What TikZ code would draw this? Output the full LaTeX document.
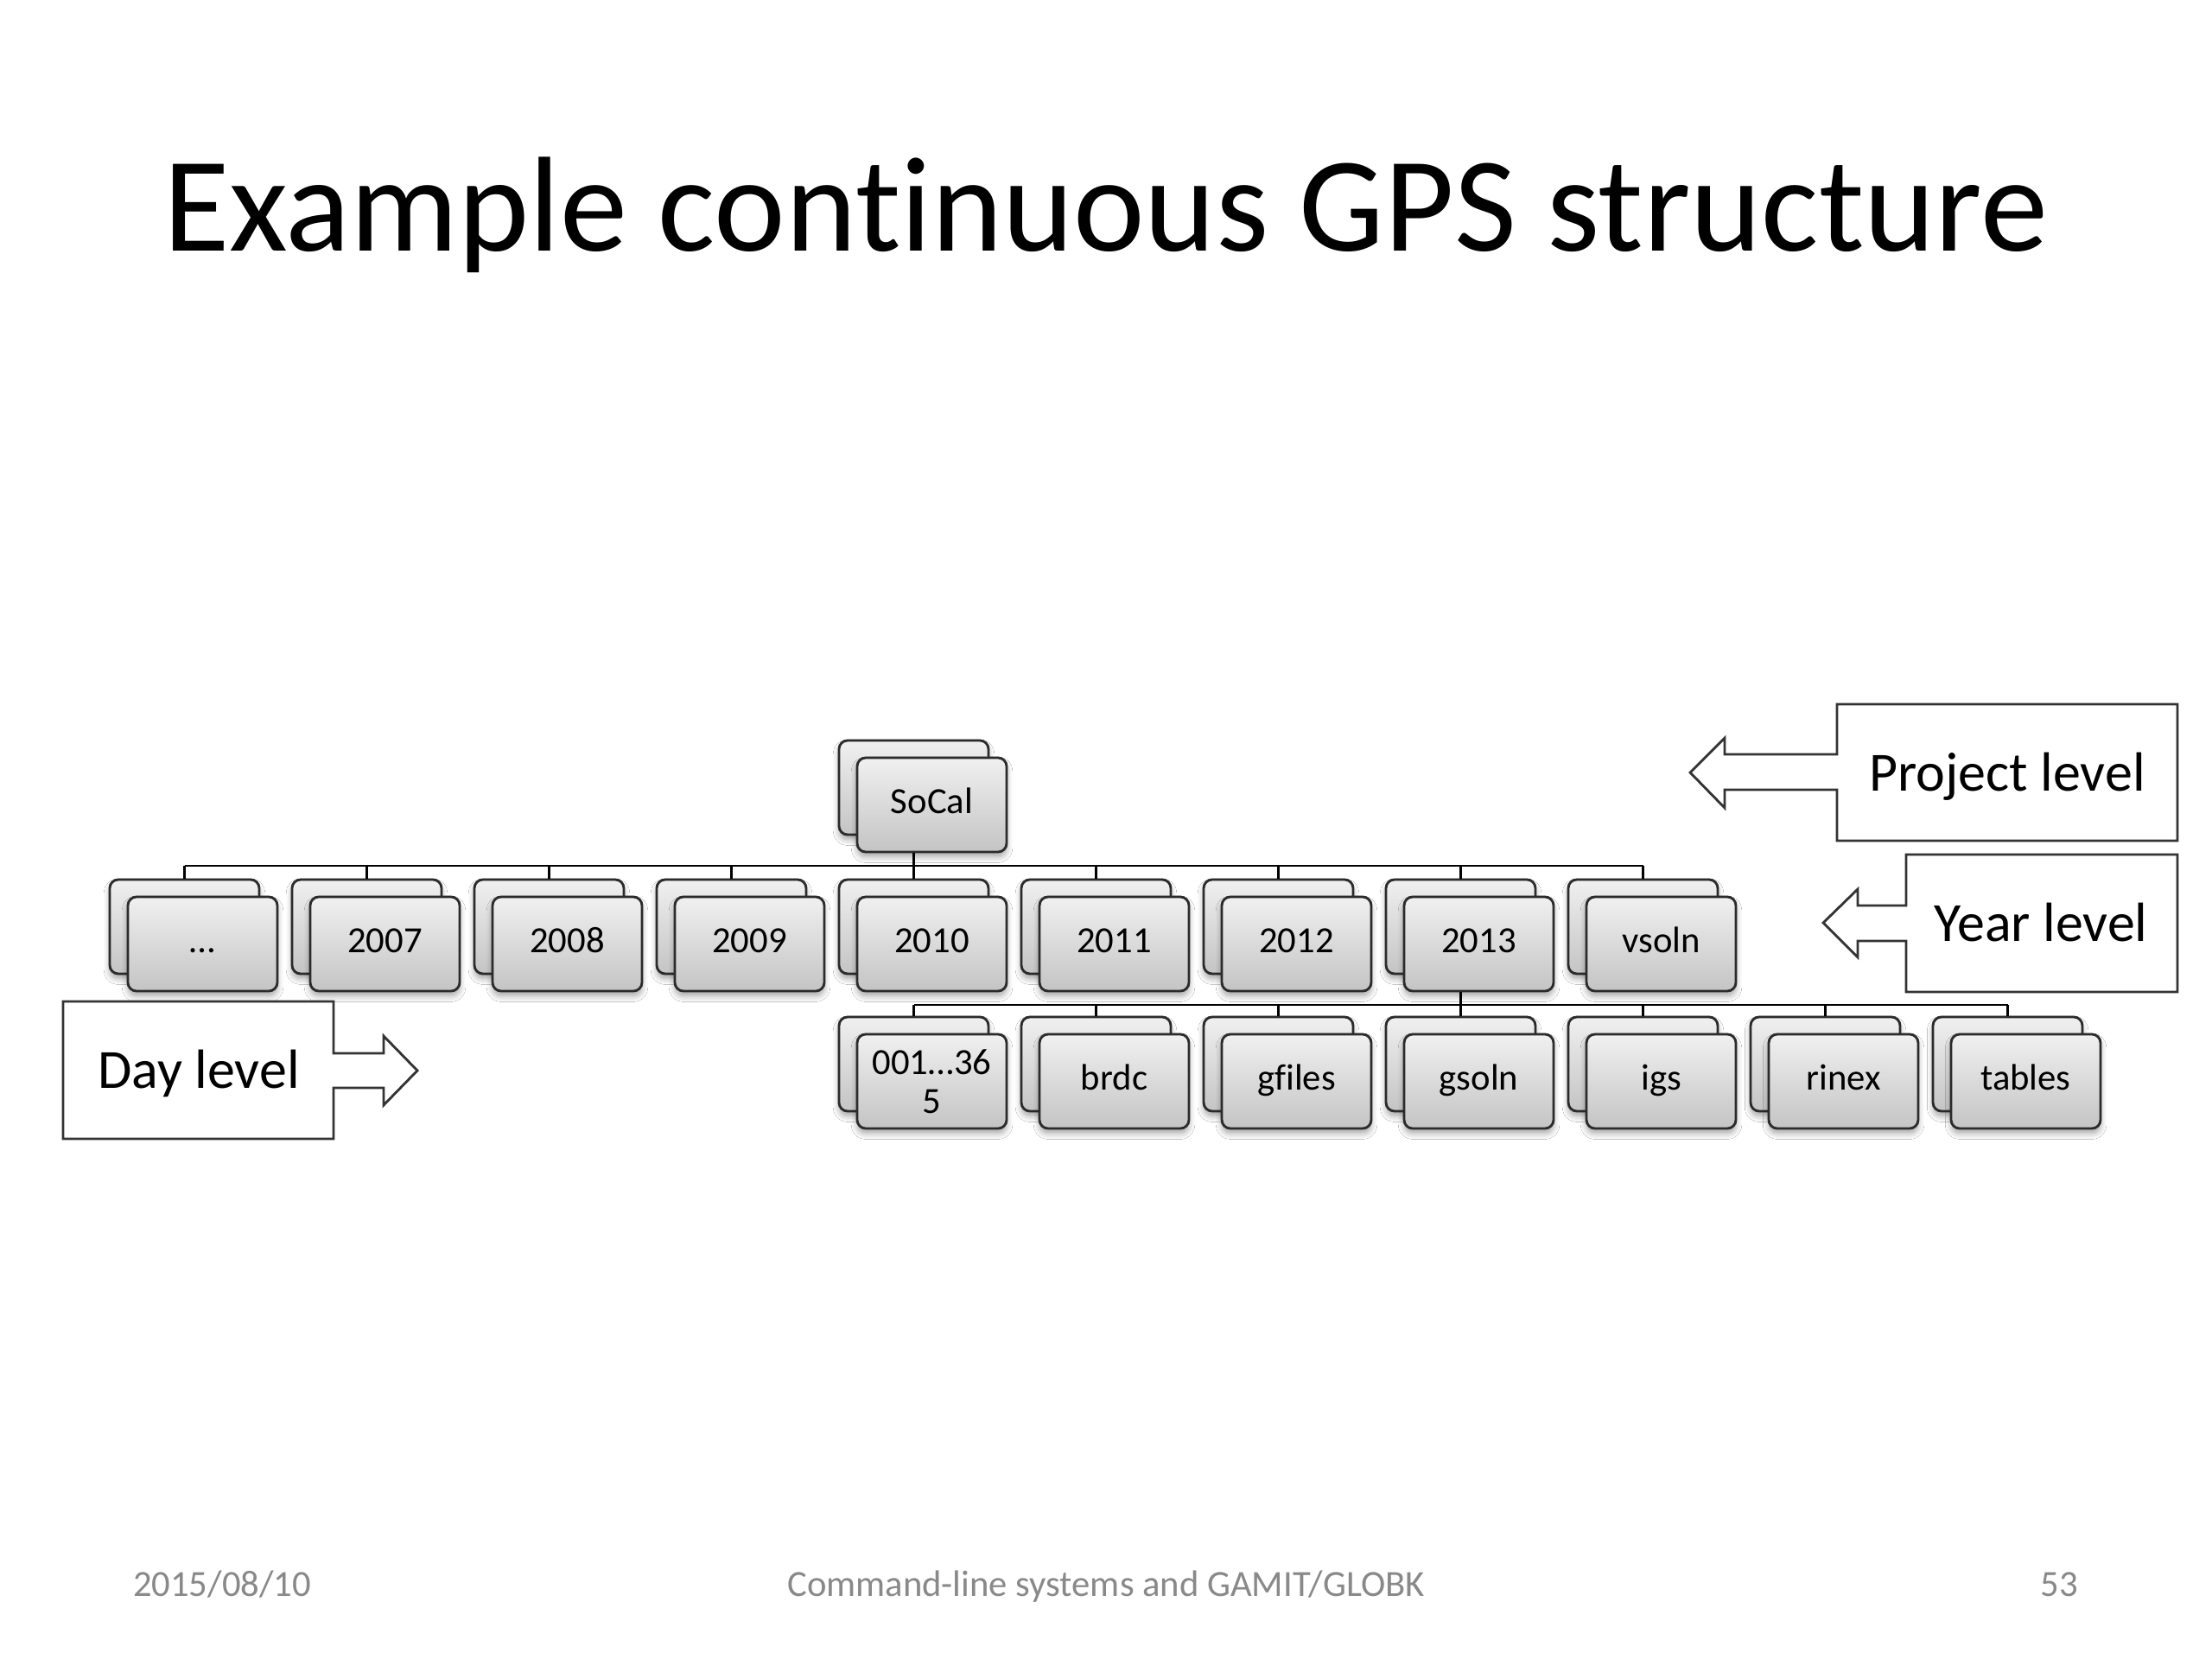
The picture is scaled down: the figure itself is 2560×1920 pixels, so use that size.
\documentclass[tikz,border=0pt]{standalone}
\usepackage{fontspec}
\setmainfont{Carlito}[Ligatures=NoCommon]
\usetikzlibrary{shadows.blur}
\definecolor{boxtop}{HTML}{F0F0F0}
\definecolor{boxbot}{HTML}{C4C4C4}
\definecolor{edge}{HTML}{2B2B2B}
\definecolor{foot}{HTML}{898989}
\tikzset{
 folder/.style={draw=edge, line width=0.8pt, rounded corners=2.8pt, top color=boxtop, bottom color=boxbot,
   minimum width=48.66pt, minimum height=30.66pt, inner sep=0pt, font=\fontsize{12}{12.6}\selectfont, align=center,
   text height=8pt, text depth=2.6pt,
   blur shadow={shadow xshift=0pt, shadow yshift=-1.6pt, shadow blur steps=6, shadow opacity=35}},
 link/.style={draw=black, line width=0.75pt},
 callout/.style={draw=black!80, line width=0.8pt, line join=miter},
 calltext/.style={font=\fontsize{18}{20}\selectfont, anchor=base},
 foottext/.style={font=\fontsize{12}{14}\selectfont, text=foot, anchor=base},
 titletext/.style={font=\fontsize{44}{50}\selectfont, anchor=base},
}
\newcommand{\folder}[5][]{%
 \node[folder] (b#2) at (#3+86.5-21, #4+54.5-20) {};
 \node[folder,#1] (#2) at (#3+86.5, #4+54.5) {#5};
}
\begin{document}
\begin{tikzpicture}[x=0.28125pt, y=-0.28125pt]
\fill[white] (0,0) rectangle (2560,1920);
\useasboundingbox (0,0) rectangle (2560,1920);

\node[titletext] (title) at (1280,291) {Example continuous GPS structure};

% folders
\folder{socal}{992}{877}{SoCal}
\foreach \t [count=\i from 0] in {…,2007,2008,2009,2010,2011,2012,2013,vsoln}{
  \folder{y\i}{148+211*\i}{1038}{\t}
}
\folder[text height={}, text depth={}]{d0}{992}{1197}{001…36\\5}
\foreach \t [count=\i from 1] in {brdc,gfiles,gsoln,igs,rinex,tables}{
  \folder{d\i}{992+211*\i}{1197}{\t}
}

% connectors
\coordinate (bus1) at (0,1002);
\coordinate (bus2) at (0,1163);
\draw[link] (socal.south -| bsocal.center) -- (bsocal.center |- bus1);
\draw[link] (by0.north |- bus1) -- (by8.north |- bus1);
\foreach \i in {0,...,8}{ \draw[link] (by\i.north |- bus1) -- (by\i.north); }
\draw[link] (y7.south -| by7.center) -- (by7.center |- bus2);
\draw[link] (bd0.north |- bus2) -- (bd6.north |- bus2);
\foreach \i in {0,...,6}{ \draw[link] (bd\i.north |- bus2) -- (bd\i.north); }

% callouts
\draw[callout] (2126,815) -- (2520,815) -- (2520,973) -- (2126,973) -- (2126,914) -- (1996,914) -- (1996,935)
  -- (1956,894) -- (1996,854) -- (1996,873) -- (2126,873) -- cycle;
\draw[callout] (2206,989) -- (2520,989) -- (2520,1148) -- (2206,1148) -- (2206,1089) -- (2150,1089) -- (2150,1108)
  -- (2110,1068) -- (2150,1029) -- (2150,1048) -- (2206,1048) -- cycle;
\draw[callout] (73,1159) -- (386,1159) -- (386,1219) -- (444,1219) -- (444,1199) -- (483,1239) -- (444,1279)
  -- (444,1259) -- (386,1259) -- (386,1318) -- (73,1318) -- cycle;
\node[calltext] (proj) at (2323,915) {Project level};
\node[calltext] (year) at (2362,1089) {Year level};
\node[calltext] (day) at (230,1259) {Day level};

% footer
\node[foottext] (date) at (257,1847) {2015/08/10};
\node[foottext] (course) at (1280,1847) {Command-line systems and GAMIT/GLOBK};
\node[foottext] (page) at (2383,1847) {53};
\end{tikzpicture}
\end{document}
